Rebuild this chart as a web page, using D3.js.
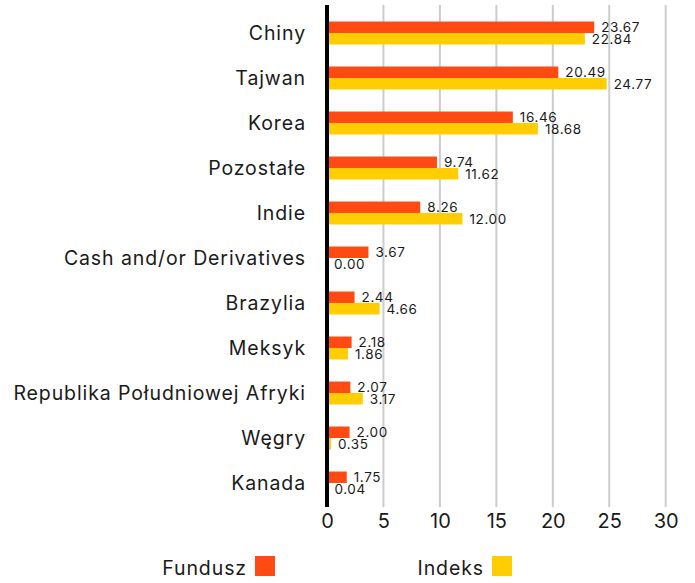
<!DOCTYPE html>
<html lang="pl">
<head>
    <meta charset="UTF-8">
    <title>Podział geograficzny</title>
    <script src="https://d3js.org/d3.v7.min.js"></script>
    <style>
        body { margin: 0; background: #fff; }
        text { font-family: Inter, "Noto Sans", sans-serif; fill: #1a1a1a; }
    </style>
</head>
<body>
    <svg width="695" height="583"></svg>
    <script>
        const categories = ["Chiny", "Tajwan", "Korea", "Pozostałe", "Indie", "Cash and/or Derivatives",
            "Brazylia", "Meksyk", "Republika Południowej Afryki", "Węgry", "Kanada"];
        const fundValues = [23.67, 20.49, 16.46, 9.74, 8.26, 3.67, 2.44, 2.18, 2.07, 2.00, 1.75];
        const indexValues = [22.84, 24.77, 18.68, 11.62, 12.00, 0.00, 4.66, 1.86, 3.17, 0.35, 0.04];
        const seriesNames = ["Fundusz", "Indeks"];
        const xTicks = [0, 5, 10, 15, 20, 25, 30];

        const colors = ["#ff4a14", "#ffcd00"];
        const svg = d3.select("svg");

        const x = d3.scaleLinear().domain([0, 30]).range([327, 665.7]);
        const y = d3.scaleBand().domain(categories).range([10.5, 505.5]).paddingInner(0.49).paddingOuter(0.245);
        const sub = d3.scaleBand().domain(seriesNames).range([0, y.bandwidth()]);

        // gridlines
        svg.append("g")
            .selectAll("line")
            .data(xTicks.filter(d => d > 0))
            .join("line")
            .attr("x1", d => x(d)).attr("x2", d => x(d))
            .attr("y1", 5).attr("y2", 507)
            .attr("stroke", "#cccccc").attr("stroke-width", 2);

        const rows = categories.map((c, i) => ({ c, vals: [fundValues[i], indexValues[i]] }));

        const groups = svg.append("g")
            .selectAll("g")
            .data(rows)
            .join("g")
            .attr("transform", d => `translate(0,${y(d.c)})`);

        groups.selectAll("rect")
            .data(d => d.vals.map((v, k) => ({ v, k })))
            .join("rect")
            .attr("x", x(0))
            .attr("y", d => sub(seriesNames[d.k]))
            .attr("width", d => x(d.v) - x(0))
            .attr("height", sub.bandwidth())
            .attr("fill", d => colors[d.k]);

        groups.selectAll("text.val")
            .data(d => d.vals.map((v, k) => ({ v, k })))
            .join("text")
            .attr("class", "val")
            .attr("x", d => x(d.v) + 7)
            .attr("y", d => sub(seriesNames[d.k]) + sub.bandwidth() / 2 + 0.5)
            .attr("dy", "0.35em")
            .attr("font-size", 13.5)
            .attr("letter-spacing", 0.6)
            .text(d => d.v.toFixed(2));

        // category labels
        svg.append("g")
            .selectAll("text")
            .data(categories)
            .join("text")
            .attr("x", 306)
            .attr("y", d => y(d) + y.bandwidth() / 2)
            .attr("dy", "0.35em")
            .attr("text-anchor", "end")
            .attr("font-size", 19.5)
            .attr("letter-spacing", 0.9)
            .text(d => d);

        // x axis
        const xAxis = d3.axisBottom(x).tickValues(xTicks).tickSize(0).tickPadding(0);
        const ax = svg.append("g").attr("transform", "translate(0,507)").call(xAxis);
        ax.select(".domain").remove();
        ax.selectAll("text")
            .attr("font-size", 20).attr("dy", "1.05em")
            .style("font-family", "Inter, sans-serif").style("fill", "#1a1a1a");

        // zero line
        svg.append("line")
            .attr("x1", x(0)).attr("x2", x(0))
            .attr("y1", 5).attr("y2", 507)
            .attr("stroke", "#000").attr("stroke-width", 4);

        // legend
        const legendX = [247, 484];
        const legend = svg.append("g")
            .selectAll("g")
            .data(seriesNames)
            .join("g");
        legend.append("text")
            .attr("x", (d, i) => legendX[i])
            .attr("y", 568)
            .attr("dy", "0.35em")
            .attr("text-anchor", "end")
            .attr("font-size", 19.5)
            .attr("letter-spacing", 0.9)
            .text(d => d);
        legend.append("rect")
            .attr("x", (d, i) => legendX[i] + 8)
            .attr("y", 556)
            .attr("width", 20).attr("height", 20)
            .attr("fill", (d, i) => colors[i]);
    </script>
</body>
</html>
